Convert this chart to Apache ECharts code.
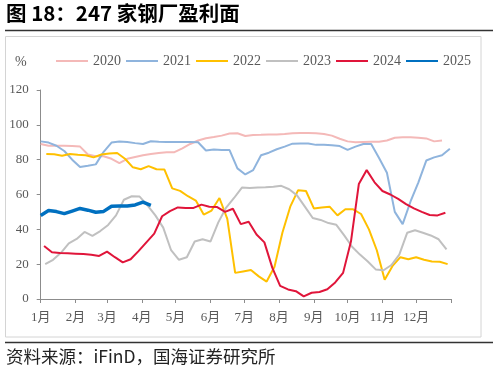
<!DOCTYPE html>
<html><head><meta charset="utf-8">
<script src="https://cdn.jsdelivr.net/npm/echarts@6/dist/echarts.min.js"></script>
<style>html,body{margin:0;padding:0;background:#fff}#c{width:498px;height:374px}</style>
</head><body><div id="c"></div>
<script>
// ---- data (weekly, x = day of year) ----
const monthLabels = ['1月','2月','3月','4月','5月','6月','7月','8月','9月','10月','11月','12月'];
const monthStartDays = [0,31,59,90,120,151,181,212,243,273,304,334,365];
const seriesNames = ['2020','2021','2022','2023','2024','2025'];

const start2020 = 0;
const v2020 = [89,88,88,88,87.8,87.5,83,82,82,80.5,78,80.5,81.5,82.5,83.3,83.8,84.2,84.3,86.5,89,91,92.3,93,93.8,95,95.2,93.6,94.2,94.3,94.5,94.5,94.7,95.2,95.3,95.3,95.2,94.7,93.8,92,90.5,90,90.2,90.3,90.3,91,92.6,92.8,92.8,92.6,92.2,90.5,91];

const start2021 = 0;
const v2021 = [90.5,89.8,88,85,80,75.8,76.5,77.3,84.5,89.8,90.4,90.2,89.5,89,90.6,90.3,90.2,90.2,90.2,90.2,90,85.3,85.8,85.6,85.5,75,71.5,74,82.5,84,86,87.5,89.2,89.3,89.3,88.5,88.6,88.3,87.8,85.6,87.5,89,89,81,72.5,50,43,56,67,79.5,81.3,82.5,86.3];

const start2022 = 5;
const v2022 = [83.3,83.1,82.3,83.2,82.8,82.5,81.3,83,83.5,83.8,80.5,75.6,74.5,76.3,74.5,74.4,63.5,62.1,59,56.5,48.5,50.8,58,46,15,15.8,16.6,13,10,18.5,38,53,62.5,62,52,52.5,53,48,51.5,51.5,48.8,40,28,11,19,24,22.8,24,22.5,21.5,21.4,20];

const start2023 = 4;
const v2023 = [20,22.5,26.5,32,34.5,38.5,36.3,39,42.5,48,57,59,58.8,53.8,48,41,28,22.5,24,33,34.3,33,44,52.5,58,64,63.8,64,64.2,64.5,65,63,59.5,53,46.5,45.4,43.6,42.6,36.5,30,25.5,21.5,17,16.5,19.5,25.5,38,39.5,38,36.5,34.3,28.5];

const start2024 = 3;
const v2024 = [30.4,26.8,26.4,26.2,26,25.8,25.4,24.7,27.2,24,21,22.8,27.5,32.5,37.5,47.5,50.5,52.6,52.2,52.3,54.2,53,52.8,50,51.8,43,44.4,37,32.5,18,7.5,5.5,4.5,1.5,3.6,4,5.6,9.5,15,33,66,74,67,62,60,57.5,54.5,52,50,48.2,48,49.5];

const start2025 = 0;
const v2025 = [48,50.8,50.2,49,50.5,52,51,49.8,50.3,53.3,53.4,53.4,54,55.6,53.8];

const seriesColors = ['#F4B9B8','#8FB4DD','#FFC000','#C0C0C0','#E0153A','#0070C0'];

function weekly(start, vals){ return vals.map((v,i)=>[start + 7*i, v]); }
const allData = [
  weekly(start2020, v2020), weekly(start2021, v2021), weekly(start2022, v2022),
  weekly(start2023, v2023), weekly(start2024, v2024), weekly(start2025, v2025)
];

const chart = echarts.init(document.getElementById('c'), null, {renderer:'canvas'});
const serif = '"Liberation Serif","Noto Sans CJK SC",serif';

chart.setOption({
  animation:false,
  backgroundColor:'#fff',
  grid:{left:40.7, right:47, top:90, bottom:75, containLabel:false},
  legend:{
    data:seriesNames, left:55, top:54, padding:0, itemWidth:32, itemHeight:14, itemGap:4,
    itemStyle:{opacity:0},
    textStyle:{color:'#595959', fontFamily:serif, fontSize:14}
  },
  xAxis:{
    type:'value', min:0, max:365,
    axisLine:{lineStyle:{color:'#8c8c8c', width:1}},
    axisTick:{show:true, length:4, customValues:monthStartDays, lineStyle:{color:'#8c8c8c'}},
    axisLabel:{customValues:monthStartDays.slice(0,12), color:'#595959', fontFamily:serif, fontSize:13, margin:12,
      formatter:(v)=>{const k=monthStartDays.indexOf(v); return k>=0&&k<12?monthLabels[k]:'';}},
    splitLine:{show:false}
  },
  yAxis:{
    type:'value', min:0, max:120, interval:20,
    axisLine:{show:true, lineStyle:{color:'#8c8c8c', width:1}},
    axisTick:{show:true, length:4, inside:false, lineStyle:{color:'#8c8c8c'}},
    axisLabel:{color:'#595959', fontFamily:serif, fontSize:13, margin:12},
    splitLine:{show:false}
  },
  graphic:[
    {type:'text', left:6, top:3, style:{text:'图 18：247 家钢厂盈利面', fill:'#000', font:'bold 20.5px "Noto Sans CJK SC", sans-serif'}},
    {type:'line', shape:{x1:5,y1:30.5,x2:493,y2:30.5}, style:{stroke:'#333', lineWidth:1.5}},
    {type:'rect', shape:{x:5.5,y:36.5,width:475.5,height:300.5}, style:{fill:'none', stroke:'#d4d4d4', lineWidth:1}},
    {type:'text', left:15, top:55, style:{text:'%', fill:'#595959', font:'14px "Liberation Serif", serif'}},
    {type:'line', shape:{x1:5,y1:342.5,x2:493,y2:342.5}, style:{stroke:'#333', lineWidth:1.5}},
    {type:'text', left:6, top:348, style:{text:'资料来源：iFinD，国海证券研究所', fill:'#222', font:'17.5px "Noto Sans CJK SC", sans-serif'}}
  ],
  series: seriesNames.map((n,i)=>({
    name:n, type:'line', data:allData[i], symbol:'none', smooth:false,
    lineStyle:{color:seriesColors[i], width: i===5?3.5:2},
    itemStyle:{color:seriesColors[i]},
    z: 2+i
  }))
});
</script></body></html>
